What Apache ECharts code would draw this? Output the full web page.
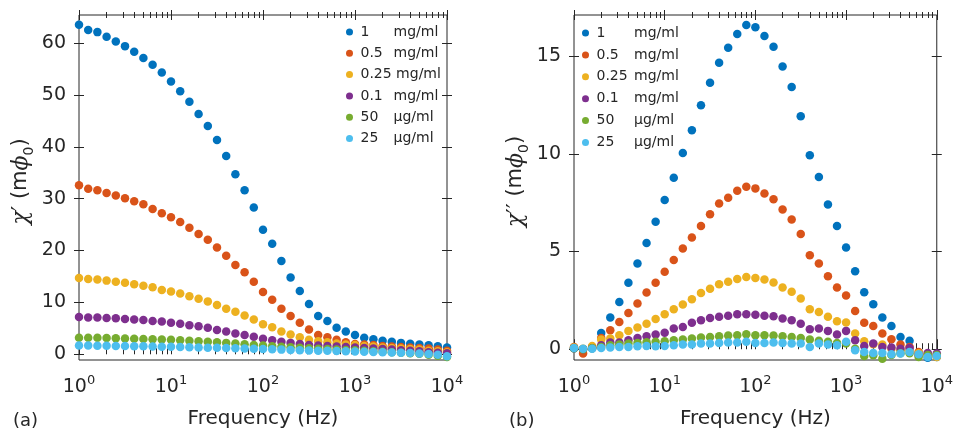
<!DOCTYPE html>
<html>
<head>
<meta charset="utf-8">
<script src="https://cdn.jsdelivr.net/npm/echarts@6/dist/echarts.min.js"></script>
<style>
  html, body { margin: 0; padding: 0; background: #ffffff; }
  #chart { width: 956px; height: 435px; }
</style>
</head>
<body>
<div id="chart"></div>
<script>
// Drive frequencies (Hz), ten points per decade from 1 Hz to 10 kHz
const frequency = [
  1, 1.259, 1.585, 1.995, 2.512, 3.162, 3.981, 5.012, 6.310, 7.943,
  10, 12.59, 15.85, 19.95, 25.12, 31.62, 39.81, 50.12, 63.10, 79.43,
  100, 125.9, 158.5, 199.5, 251.2, 316.2, 398.1, 501.2, 631.0, 794.3,
  1000, 1259, 1585, 1995, 2512, 3162, 3981, 5012, 6310, 7943,
  10000
];

// Legend entries: concentration and unit
const concentrations = ['1 mg/ml', '0.5 mg/ml', '0.25 mg/ml', '0.1 mg/ml', '50 µg/ml', '25 µg/ml'];
const colors = ['#0072BD', '#D95319', '#EDB120', '#7E2F8E', '#77AC30', '#4DBEEE'];

// In-phase susceptibility χ′ (mϕ0)
const chiReal_1mg = [63.5, 62.5, 62.1, 61.2, 60.3, 59.4, 58.3, 57.1, 55.8, 54.3, 52.6, 50.7, 48.7, 46.3, 44.0, 41.3, 38.2, 34.7, 31.6, 28.3, 24.0, 21.3, 18.0, 14.8, 12.2, 9.7, 7.4, 6.4, 5.1, 4.4, 3.7, 3.2, 2.9, 2.6, 2.4, 2.2, 2.05, 1.9, 1.75, 1.55, 1.3];
const chiReal_05mg = [32.6, 31.9, 31.6, 31.1, 30.6, 30.1, 29.5, 28.9, 28.0, 27.2, 26.4, 25.5, 24.4, 23.2, 22.1, 20.6, 19.0, 17.2, 15.8, 14.0, 12.0, 10.5, 8.8, 7.4, 6.1, 4.8, 3.7, 3.3, 2.8, 2.3, 2.0, 1.9, 1.8, 1.6, 1.5, 1.4, 1.3, 1.2, 1.1, 0.9, 0.7];
const chiReal_025mg = [14.7, 14.5, 14.4, 14.2, 14.0, 13.8, 13.5, 13.2, 12.9, 12.4, 12.1, 11.7, 11.2, 10.7, 10.2, 9.5, 8.8, 8.2, 7.5, 6.7, 5.8, 5.2, 4.4, 3.8, 3.3, 2.8, 2.5, 2.3, 2.1, 1.9, 1.8, 1.6, 1.5, 1.3, 1.2, 1.1, 1.0, 0.9, 0.7, 0.6, 0.4];
const chiReal_01mg = [7.2, 7.1, 7.1, 7.0, 6.95, 6.8, 6.7, 6.6, 6.4, 6.3, 6.1, 5.9, 5.6, 5.4, 5.1, 4.7, 4.4, 4.0, 3.7, 3.4, 3.0, 2.7, 2.4, 2.2, 2.0, 1.8, 1.7, 1.6, 1.5, 1.4, 1.3, 1.2, 1.1, 1.0, 0.9, 0.8, 0.7, 0.6, 0.4, 0.3, 0.2];
const chiReal_50ug = [3.2, 3.2, 3.2, 3.15, 3.1, 3.05, 3.0, 2.95, 2.9, 2.85, 2.8, 2.7, 2.6, 2.5, 2.4, 2.3, 2.2, 2.1, 1.95, 1.8, 1.7, 1.55, 1.45, 1.35, 1.25, 1.15, 1.05, 1.0, 0.9, 0.85, 0.8, 0.7, 0.6, 0.5, 0.4, 0.3, 0.2, 0.1, -0.1, -0.3, -0.5];
const chiReal_25ug = [1.7, 1.68, 1.66, 1.64, 1.62, 1.6, 1.57, 1.54, 1.5, 1.47, 1.44, 1.4, 1.36, 1.32, 1.28, 1.24, 1.2, 1.15, 1.1, 1.05, 1.0, 0.95, 0.9, 0.85, 0.8, 0.75, 0.7, 0.66, 0.62, 0.58, 0.54, 0.5, 0.45, 0.4, 0.35, 0.3, 0.25, 0.15, 0.05, -0.1, -0.4];

// Out-of-phase susceptibility χ′′ (mϕ0)
const chiImag_1mg = [0.05, 0.0, 0.1, 0.83, 1.62, 2.42, 3.4, 4.39, 5.44, 6.52, 7.63, 8.77, 10.04, 11.2, 12.48, 13.64, 14.66, 15.43, 16.13, 16.59, 16.47, 16.03, 15.48, 14.46, 13.42, 11.92, 9.93, 8.81, 7.41, 6.30, 5.21, 3.99, 2.92, 2.30, 1.62, 1.19, 0.63, 0.43, -0.22, -0.44, -0.4];
const chiImag_05mg = [0.12, -0.22, 0.12, 0.58, 0.97, 1.4, 1.86, 2.34, 2.9, 3.4, 3.96, 4.56, 5.16, 5.72, 6.31, 6.91, 7.46, 7.75, 8.11, 8.31, 8.23, 7.97, 7.68, 7.15, 6.64, 5.89, 4.81, 4.39, 3.74, 3.16, 2.75, 1.96, 1.35, 1.19, 0.8, 0.51, 0.24, 0.12, -0.14, -0.26, -0.3];
const chiImag_025mg = [0.09, 0.03, 0.17, 0.5, 0.55, 0.72, 0.94, 1.11, 1.31, 1.55, 1.79, 2.05, 2.29, 2.56, 2.88, 3.1, 3.33, 3.45, 3.6, 3.7, 3.65, 3.57, 3.41, 3.16, 2.94, 2.6, 2.05, 1.91, 1.66, 1.43, 1.37, 0.8, 0.41, 0.26, 0.24, 0.03, -0.05, -0.05, -0.2, -0.3, -0.4];
const chiImag_01mg = [0.05, 0.0, 0.05, 0.2, 0.34, 0.34, 0.46, 0.58, 0.67, 0.75, 0.85, 1.06, 1.14, 1.35, 1.48, 1.6, 1.66, 1.71, 1.79, 1.79, 1.77, 1.71, 1.69, 1.57, 1.48, 1.31, 1.02, 1.06, 0.94, 0.75, 0.94, 0.46, 0.17, 0.29, 0.12, 0.09, 0.03, 0.07, -0.31, -0.19, -0.22];
const chiImag_50ug = [0.05, 0.0, 0.05, 0.12, 0.2, 0.24, 0.29, 0.32, 0.36, 0.38, 0.41, 0.46, 0.5, 0.55, 0.6, 0.63, 0.67, 0.7, 0.72, 0.77, 0.72, 0.72, 0.7, 0.67, 0.63, 0.58, 0.5, 0.43, 0.38, 0.32, 0.29, 0.03, -0.34, -0.31, -0.48, -0.3, -0.2, -0.2, -0.4, -0.3, -0.3];
const chiImag_25ug = [0.07, 0.03, 0.03, 0.07, 0.09, 0.12, 0.12, 0.15, 0.17, 0.15, 0.17, 0.2, 0.24, 0.24, 0.29, 0.29, 0.32, 0.34, 0.34, 0.38, 0.32, 0.32, 0.34, 0.32, 0.29, 0.29, 0.12, 0.29, 0.24, 0.2, 0.38, -0.05, -0.14, -0.19, -0.19, -0.26, -0.22, -0.14, -0.26, -0.4, -0.35];

const chiRealSets = [chiReal_1mg, chiReal_05mg, chiReal_025mg, chiReal_01mg, chiReal_50ug, chiReal_25ug];
const chiImagSets = [chiImag_1mg, chiImag_05mg, chiImag_025mg, chiImag_01mg, chiImag_50ug, chiImag_25ug];

// Axis ticks
const decadeTicks = [1, 10, 100, 1000, 10000];
const minorFreqTicks = [2, 3, 4, 5, 6, 7, 8, 9, 20, 30, 40, 50, 60, 70, 80, 90, 200, 300, 400, 500, 600, 700, 800, 900, 2000, 3000, 4000, 5000, 6000, 7000, 8000, 9000];
const chiRealTicks = [0, 10, 20, 30, 40, 50, 60];
const chiImagTicks = [0, 5, 10, 15];

const INK = '#262626';
const SANS = '"DejaVu Sans", sans-serif';
const SERIF = '"DejaVu Serif", serif';

const grids = [
  { left: 79, right: 509, top: 15, bottom: 75 },
  { left: 574, right: 14, top: 15, bottom: 75 }
];

// Four x axes per panel: major/minor ticks on bottom and top, each crossing the frame
function freqAxes(gridIndex) {
  const base = {
    type: 'log', logBase: 10, min: 1, max: 10000, gridIndex: gridIndex,
    axisLine: { show: false }, splitLine: { show: false }, minorTick: { show: false }
  };
  const major = { show: true, inside: true, length: 10, lineStyle: { color: INK, width: 1 }, customValues: decadeTicks };
  const minor = { show: true, inside: true, length: 6, lineStyle: { color: INK, width: 1 }, customValues: minorFreqTicks };
  return [
    Object.assign({}, base, {
      position: 'bottom', offset: 5, axisTick: major,
      axisLabel: {
        show: true, margin: 9, customValues: decadeTicks,
        formatter: function (v) { return '{b|10}{s|' + Math.round(Math.log10(v)) + '}'; },
        rich: {
          b: { fontFamily: SANS, fontSize: 19, color: INK, lineHeight: 23, verticalAlign: 'bottom' },
          s: { fontFamily: SANS, fontSize: 13, color: INK, lineHeight: 13, verticalAlign: 'top' }
        }
      },
      name: 'Frequency (Hz)', nameLocation: 'middle', nameGap: 44,
      nameTextStyle: { fontFamily: SANS, fontSize: 20, color: INK, verticalAlign: 'top' }
    }),
    Object.assign({}, base, { position: 'bottom', offset: 3, axisTick: minor, axisLabel: { show: false } }),
    Object.assign({}, base, { position: 'top', offset: 5, axisTick: major, axisLabel: { show: false } }),
    Object.assign({}, base, { position: 'top', offset: 3, axisTick: minor, axisLabel: { show: false } })
  ];
}

function chiAxes(gridIndex, min, max, ticks, primes) {
  const tick = { show: true, inside: true, length: 10, lineStyle: { color: INK, width: 1 }, customValues: ticks };
  const base = {
    type: 'value', min: min, max: max, gridIndex: gridIndex,
    axisLine: { show: false }, splitLine: { show: false }
  };
  return [
    Object.assign({}, base, {
      position: 'left', offset: 5, axisTick: tick,
      axisLabel: { show: true, margin: 8, customValues: ticks, fontFamily: SANS, fontSize: 19, color: INK },
      name: '{chi|χ}{pr|' + primes + '}{t| (m}{phi|ϕ}{sub|0}{t|)}',
      nameLocation: 'middle', nameRotate: 90, nameGap: 38,
      nameTextStyle: {
        color: INK,
        padding: [0, 0, 0, 12],
        rich: {
          chi: { fontFamily: SERIF, fontStyle: 'italic', fontSize: 23, color: INK, lineHeight: 26, verticalAlign: 'top' },
          pr: { fontFamily: SANS, fontSize: 22, color: INK, lineHeight: 26, verticalAlign: 'top' },
          t: { fontFamily: SANS, fontSize: 21, color: INK, lineHeight: 26, verticalAlign: 'top' },
          phi: { fontFamily: SERIF, fontStyle: 'italic', fontSize: 22, color: INK, lineHeight: 26, verticalAlign: 'top' },
          sub: { fontFamily: SANS, fontSize: 14, color: INK, lineHeight: 14, verticalAlign: 'bottom' }
        }
      }
    }),
    Object.assign({}, base, { position: 'right', offset: 5, axisTick: tick, axisLabel: { show: false } })
  ];
}

const xAxes = freqAxes(0).concat(freqAxes(1));
const yAxes = chiAxes(0, -1.1, 65.4, chiRealTicks, '′').concat(chiAxes(1, -0.55, 17.1, chiImagTicks, '′′'));

function makeSeries(sets, xIndex, yIndex) {
  return sets.map(function (values, i) {
    return {
      type: 'scatter', name: concentrations[i],
      xAxisIndex: xIndex, yAxisIndex: yIndex,
      symbol: 'circle', symbolSize: 8.5, clip: false,
      itemStyle: { color: colors[i], opacity: 1 },
      emphasis: { disabled: true },
      data: frequency.map(function (f, k) { return [f, values[k]]; })
    };
  });
}

function legendFor(left, top, colWidth, gap) {
  return {
    orient: 'vertical', left: left, top: top,
    itemWidth: 12, itemHeight: 7, itemGap: gap, icon: 'circle',
    data: concentrations,
    selectedMode: false,
    formatter: function (name) {
      const parts = name.split(' ');
      const wide = parts[0].length > 3 && colWidth < 36;
      return (wide ? '{w|' + parts[0] + ' }' : '{n|' + parts[0] + '}') + '{u|' + parts[1] + '}';
    },
    textStyle: {
      rich: {
        n: { fontFamily: SANS, fontSize: 14, color: INK, width: colWidth, lineHeight: 16 },
        w: { fontFamily: SANS, fontSize: 14, color: INK, lineHeight: 16 },
        u: { fontFamily: SANS, fontSize: 14, color: INK, lineHeight: 16 }
      }
    }
  };
}

const chart = echarts.init(document.getElementById('chart'), null, { renderer: 'canvas' });
chart.setOption({
  backgroundColor: '#ffffff',
  animation: false,
  color: colors,
  title: [
    { text: '(a)', left: 8, top: 407, textStyle: { fontFamily: SANS, fontSize: 18, fontWeight: 'normal', color: INK } },
    { text: '(b)', left: 504, top: 407, textStyle: { fontFamily: SANS, fontSize: 18, fontWeight: 'normal', color: INK } }
  ],
  grid: grids.map(function (g) {
    return Object.assign({ show: true, borderColor: INK, borderWidth: 1, backgroundColor: 'transparent', containLabel: false }, g);
  }),
  legend: [legendFor(341, 20, 33, 7.3), legendFor(577, 21, 37.5, 7.9)],
  xAxis: xAxes,
  yAxis: yAxes,
  series: makeSeries(chiRealSets, 0, 0).concat(makeSeries(chiImagSets, 4, 2))
});
</script>
</body>
</html>
